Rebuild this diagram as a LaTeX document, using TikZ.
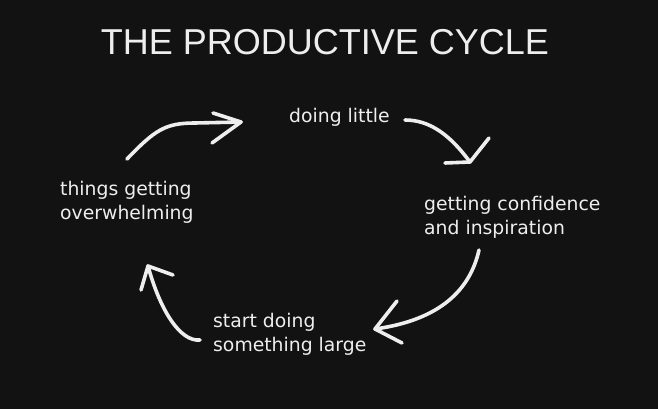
\documentclass[tikz,border=0pt]{standalone}
\usepackage{fontspec}
\setmainfont{Liberation Sans}
\newfontfamily\handfont{DejaVu Sans}
\definecolor{bgc}{HTML}{121212}
\definecolor{inkc}{HTML}{EEEEEE}
\begin{document}
\begin{tikzpicture}[x=1pt,y=-1pt,
  hand/.style={font=\handfont\fontsize{18.8}{24}\selectfont, text=inkc, inner sep=0pt, align=left, anchor=base west},
  stroke/.style={draw=inkc, line width=3.6pt, line cap=round, line join=round}]
\fill[bgc] (0,0) rectangle (658,409);
\useasboundingbox (0,0) rectangle (658,409);
\node[font=\fontsize{36}{40}\selectfont, text=inkc, inner sep=0pt, anchor=base] (title) at (325,55) {THE PRODUCTIVE CYCLE};
\node[hand] (little) at (289,123) {doing little};
\node[hand] (overw) at (60,219) {things getting\\overwhelming};
\node[hand] (conf) at (424,234) {getting confidence\\and inspiration};
\node[hand] (large) at (213,351) {start doing\\something large};
% arrow end points
\coordinate (a1s) at (127,159); \coordinate (a1e) at (241,122);
\coordinate (a2s) at (405,120); \coordinate (a2e) at (470,162);
\coordinate (a3s) at (479,250); \coordinate (a3e) at (375,329);
\coordinate (a4s) at (200,340); \coordinate (a4e) at (148,266);
% arrow 1
\draw[stroke] (a1s) .. controls (155,130) and (165,123) .. (195,123) -- (a1e);
\draw[stroke] (213,113) -- (a1e) -- (212,143);
% arrow 2
\draw[stroke] (a2s) .. controls (430,120) and (450,135) .. (a2e);
\draw[stroke] (445,163) -- (a2e) -- (489,138);
% arrow 3
\draw[stroke] (a3s) .. controls (470,290) and (440,320) .. (a3e);
\draw[stroke] (397,301) -- (a3e) -- (402,343);
% arrow 4
\draw[stroke] (a4s) .. controls (180,342) and (160,310) .. (a4e);
\draw[stroke] (141,290) -- (a4e) -- (173,275);
\end{tikzpicture}
\end{document}
